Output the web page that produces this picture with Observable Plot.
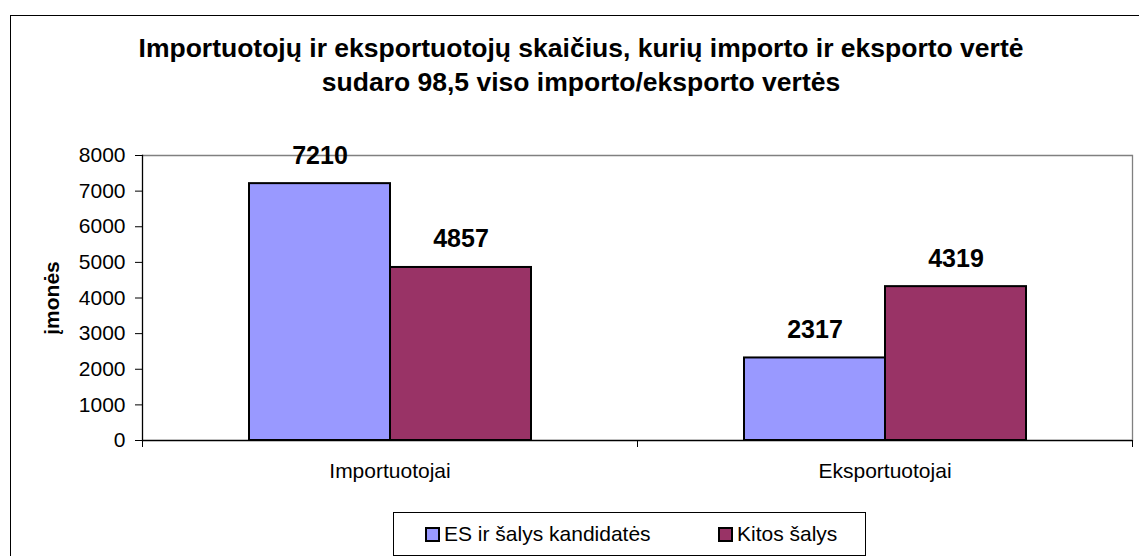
<!DOCTYPE html>
<html><head><meta charset="utf-8">
<script src="https://cdn.jsdelivr.net/npm/d3@7"></script>
<script src="https://cdn.jsdelivr.net/npm/@observablehq/plot@0.6"></script>
<style>
body{margin:0;width:1139px;height:556px;overflow:hidden;background:#fff;font-family:Arial,"Liberation Sans",sans-serif;position:relative}
#box{position:absolute;left:10px;top:15px;width:1150px;height:600px;border:1px solid #000;box-sizing:border-box}
#title{position:absolute;left:10px;width:1142px;top:31px;text-align:center;font-weight:bold;font-size:26.5px;line-height:34px;color:#000}
#chart{position:absolute;left:0;top:120px}
#legend{position:absolute;left:393px;top:512px;width:473px;height:44px;border:1px solid #000;box-sizing:border-box;background:#fff;font-size:21px}
.item{position:absolute;top:0;height:42px;display:flex;align-items:center;white-space:nowrap}
.sw{width:15px;height:15px;border:2px solid #000;box-sizing:border-box;margin-right:4px}
</style></head>
<body>
<div id="box"></div>
<div id="title">Importuotojų ir eksportuotojų skaičius, kurių importo ir eksporto vertė<br>sudaro 98,5 viso importo/eksporto vertės</div>
<div id="chart"></div>
<div id="legend"></div>
<script>
const categories = ["Importuotojai", "Eksportuotojai"];
const series = ["ES ir šalys kandidatės", "Kitos šalys"];
const esValues = [7210, 2317];
const otherValues = [4857, 4319];
const yTicks = [0, 1000, 2000, 3000, 4000, 5000, 6000, 7000, 8000];
const colors = ["#9999FF", "#993366"];
const yLabel = "įmonės";

const data = [];
categories.forEach((c, i) => {
  data.push({category: c, series: series[0], value: esValues[i]});
  data.push({category: c, series: series[1], value: otherValues[i]});
});

const W = 1139, H = 370, ML = 142, MR = 7, MT = 35, MB = 50;
const facetW = (W - ML - MR) / categories.length;

const chart = Plot.plot({
  width: W, height: H,
  marginLeft: ML, marginRight: MR, marginTop: MT, marginBottom: MB,
  style: {fontFamily: "Arial, 'Liberation Sans', sans-serif", fontSize: "21px", color: "#000", background: "transparent", overflow: "visible"},
  fx: {domain: categories, padding: 0, axis: null, label: null},
  x: {domain: series, paddingInner: 0, paddingOuter: 0.743, axis: null},
  y: {domain: [0, 8000], ticks: yTicks, tickSize: 7, tickPadding: 10, label: null, tickFormat: d => String(d)},
  color: {domain: series, range: colors},
  marks: [
    Plot.ruleY([8000], {stroke: "#808080", strokeWidth: 1.3}),
    Plot.frame({anchor: "right", facetAnchor: "right", stroke: "#808080", strokeWidth: 1.3}),
    Plot.frame({anchor: "left", facetAnchor: "left", stroke: "#000", strokeWidth: 1.3}),
    Plot.barY(data, {fx: "category", x: "series", y: "value", fill: "series", stroke: "#000", strokeWidth: 2}),
    Plot.ruleY([0], {stroke: "#000", strokeWidth: 1.3}),
    Plot.axisFx({anchor: "bottom", tickSize: 0, tickPadding: 23, label: null}),
    Plot.axisFx({anchor: "bottom", tickSize: 7, tickFormat: () => "", label: null, dx: -facetW / 2}),
    Plot.axisFx({anchor: "bottom", tickSize: 7, tickFormat: () => "", label: null, dx: facetW / 2}),
    Plot.text(data, {fx: "category", x: "series", y: "value", text: d => String(d.value), lineAnchor: "bottom", dy: -20, fontSize: 25, fontWeight: "bold", fill: "#000"}),
    Plot.text([yLabel], {frameAnchor: "left", textAnchor: "middle", lineAnchor: "middle", dx: -90, rotate: -90, fontWeight: "bold", fontSize: 21, fill: "#000", facetAnchor: "left"})
  ]
});
document.getElementById("chart").appendChild(chart);

const legend = document.getElementById("legend");
const offsets = [31, 324];
series.forEach((s, i) => {
  const it = document.createElement("div");
  it.className = "item";
  it.style.left = offsets[i] + "px";
  const sw = document.createElement("div");
  sw.className = "sw";
  sw.style.background = colors[i];
  const tx = document.createElement("span");
  tx.textContent = s;
  it.appendChild(sw); it.appendChild(tx);
  legend.appendChild(it);
});
</script>
</body></html>
